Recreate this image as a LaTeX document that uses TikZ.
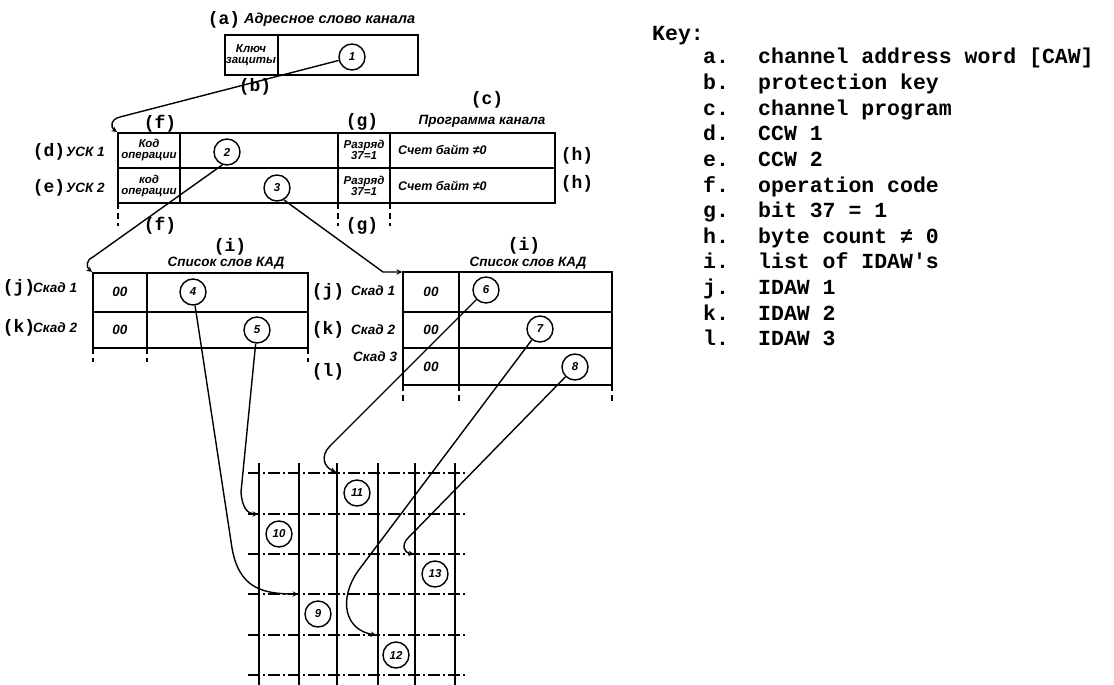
\documentclass[tikz,border=0pt]{standalone}
\usepackage{fontspec}
\newfontfamily\keyfont{Liberation Mono}
\newfontfamily\rufont{Liberation Sans}
\usetikzlibrary{arrows,positioning}

\begin{document}
\begin{tikzpicture}[
        x=1pt, y=-1pt,
        tbl/.style={line width=1.6pt},
        num/.style={circle, draw, line width=1.4pt, minimum size=26pt, inner sep=0pt, font=\rufont\bfseries\itshape\fontsize{11.5}{11.5}\selectfont},
        lbl/.style={font=\keyfont\bfseries\fontsize{18}{18}\selectfont, inner sep=0pt},
        ru/.style={font=\rufont\bfseries\itshape\fontsize{13.5}{13.5}\selectfont, inner sep=0pt, align=center},
        small/.style={font=\rufont\bfseries\itshape\fontsize{11.5}{11}\selectfont, inner sep=0pt, align=center},
        keytxt/.style={font=\keyfont\bfseries\fontsize{21.5}{25}\selectfont, inner sep=0pt, anchor=base west},
        arrow/.style={->, line width=1.4pt, >=stealth},
        tick/.style={line width=1.3pt, dash pattern=on 6pt off 4pt},
        gridv/.style={line width=1.4pt},
        gridh/.style={line width=1.1pt, dash pattern=on 12pt off 3pt on 2pt off 3pt}
    ]
        \useasboundingbox (0,0) rectangle (1114,685);

        % channel address word
        \draw[tbl] (225,35) rectangle (418,75);
        \draw[tbl] (278,35) -- (278,75);
        \node[lbl] (la) at (224,20) {(a)};
        \node[ru, anchor=west, font=\rufont\bfseries\itshape\fontsize{14.5}{14.5}\selectfont] (cawtitle) at (244,20) {Адресное слово канала};
        \node[small] (protkey) at (251,55) {Ключ\\защиты};
        \node[num] (n1) at (352,57) {1};
        \node[lbl] (lb) at (255,87) {(b)};

        % channel program
        \node[lbl] (lc) at (487,100) {(c)};
        \node[ru] (progtitle) at (482,121) {Программа канала};
        \draw[tbl] (118,133) rectangle (555,203);
        \draw[tbl] (118,168) -- (555,168);
        \foreach \x in {180,338,390} \draw[tbl] (\x,133) -- (\x,203);
        \foreach \x in {118,338,390} \draw[tick] (\x,203) -- (\x,226);
        \node[small] (op1) at (149,150) {Код\\операции};
        \node[small] (op2) at (149,186) {код\\операции};
        \node[small] (bit1) at (364,150) {Разряд\\37=1};
        \node[small] (bit2) at (364,186) {Разряд\\37=1};
        \node[ru, anchor=west, font=\rufont\bfseries\itshape\fontsize{12.5}{12.5}\selectfont] (cnt1) at (398,150) {Счет байт ≠0};
        \node[ru, anchor=west, font=\rufont\bfseries\itshape\fontsize{12.5}{12.5}\selectfont] (cnt2) at (398,186) {Счет байт ≠0};
        \node[num] (n2) at (227,152) {2};
        \node[num] (n3) at (277,188) {3};
        \node[lbl] (lh1) at (577,156) {(h)};
        \node[lbl] (lh2) at (577,184) {(h)};
        \node[lbl] (ld) at (49,152) {(d)};
        \node[ru, anchor=west] (ccw1) at (66,152) {УСК 1};
        \node[lbl] (le) at (49,188) {(e)};
        \node[ru, anchor=west] (ccw2) at (66,188) {УСК 2};
        \node[lbl] (lf1) at (160,124) {(f)};
        \node[lbl] (lg1) at (362,122) {(g)};
        \node[lbl] (lf2) at (160,226) {(f)};
        \node[lbl] (lg2) at (362,226) {(g)};

        % left IDAW list
        \draw[tbl] (93,273) rectangle (308,348);
        \draw[tbl] (93,312) -- (308,312);
        \draw[tbl] (147,273) -- (147,348);
        \foreach \x in {93,147,308} \draw[tick] (\x,348) -- (\x,362);
        \node[ru] (zz1) at (120,292) {00};
        \node[ru] (zz2) at (120,330) {00};
        \node[num] (n4) at (193,292) {4};
        \node[num] (n5) at (257,330) {5};
        \node[lbl] (li1) at (230,247) {(i)};
        \node[ru] (list1title) at (226,263) {Список слов КАД};
        \node[lbl] (lj1) at (19,288) {(j)};
        \node[ru, anchor=west] (idaw11) at (33,288) {Скад 1};
        \node[lbl] (lk1) at (19,328) {(k)};
        \node[ru, anchor=west] (idaw12) at (33,328) {Скад 2};

        % right IDAW list
        \draw[tbl] (403,272) rectangle (612,385);
        \draw[tbl] (403,312) -- (612,312);
        \draw[tbl] (403,348) -- (612,348);
        \draw[tbl] (459,272) -- (459,385);
        \foreach \x in {403,459,612} \draw[tick] (\x,385) -- (\x,405);
        \node[ru] (zz3) at (431,292) {00};
        \node[ru] (zz4) at (431,330) {00};
        \node[ru] (zz5) at (431,367) {00};
        \node[num] (n6) at (486,290) {6};
        \node[num] (n7) at (540,329) {7};
        \node[num] (n8) at (575,367) {8};
        \node[lbl] (li2) at (524,246) {(i)};
        \node[ru] (list2title) at (528,263) {Список слов КАД};
        \node[lbl] (lj2) at (328,292) {(j)};
        \node[ru, anchor=west] (idaw21) at (351,291) {Скад 1};
        \node[lbl] (lk2) at (328,330) {(k)};
        \node[ru, anchor=west] (idaw22) at (351,330) {Скад 2};
        \node[lbl] (ll2) at (328,372) {(l)};
        \node[ru, anchor=west] (idaw23) at (353,357) {Скад 3};

        % storage grid
        \foreach \x in {259,299,337,378,415,455} \draw[gridv] (\x,463) -- (\x,685);
        \foreach \y in {473,514,554,594,635,675} \draw[gridh] (248,\y) -- (465,\y);
        \node[num] (n9) at (318,614) {9};
        \node[num] (n10) at (279,534) {10};
        \node[num] (n11) at (357,493) {11};
        \node[num] (n12) at (396,655) {12};
        \node[num] (n13) at (435,574) {13};

        % pointers
        \coordinate (ccw) at (117,132);
        \coordinate (list1) at (92,272);
        \coordinate (list2) at (402,272);
        \coordinate (p9) at (298,594);
        \coordinate (p10) at (258,514);
        \coordinate (p11) at (336,472);
        \coordinate (p12) at (376,635);
        \coordinate (p13) at (414,554);
        \draw[arrow] (n1) -- (120,117) .. controls (111,119) and (110,127) .. (ccw);
        \draw[arrow] (n2.250) -- (93,257) .. controls (86,260) and (86,267) .. (list1);
        \draw[arrow] (n3.-60) -- (383,272) -- (list2);
        \draw[arrow] (n4) -- (232,548) .. controls (239,588) and (262,594) .. (p9);
        \draw[arrow] (n5) -- (241,492) .. controls (242,508) and (248,514) .. (p10);
        \draw[arrow] (n6) -- (330,446) .. controls (320,456) and (324,467) .. (p11);
        \draw[arrow] (n7) -- (358,571) .. controls (338,600) and (345,630) .. (p12);
        \draw[arrow] (n8) -- (408,538) .. controls (401,545) and (404,553) .. (p13);

        % key
        \node[keytxt] (keyhead) at (652,41) {Key:};
        \foreach \k/\txt [count=\i] in {a/{channel address word [CAW]}, b/{protection key}, c/{channel program}, d/{CCW 1}, e/{CCW 2}, f/{operation code}, g/{bit 37 = 1}, h/{byte count ≠ 0}, i/{list of IDAW's}, j/{IDAW 1}, k/{IDAW 2}, l/{IDAW 3}} {
            \node[keytxt] (key\k) at (703,{64+(\i-1)*25.6}) {\k.};
            \node[keytxt] (item\k) at (758,{64+(\i-1)*25.6}) {\txt};
        }

    \end{tikzpicture}
\end{document}
